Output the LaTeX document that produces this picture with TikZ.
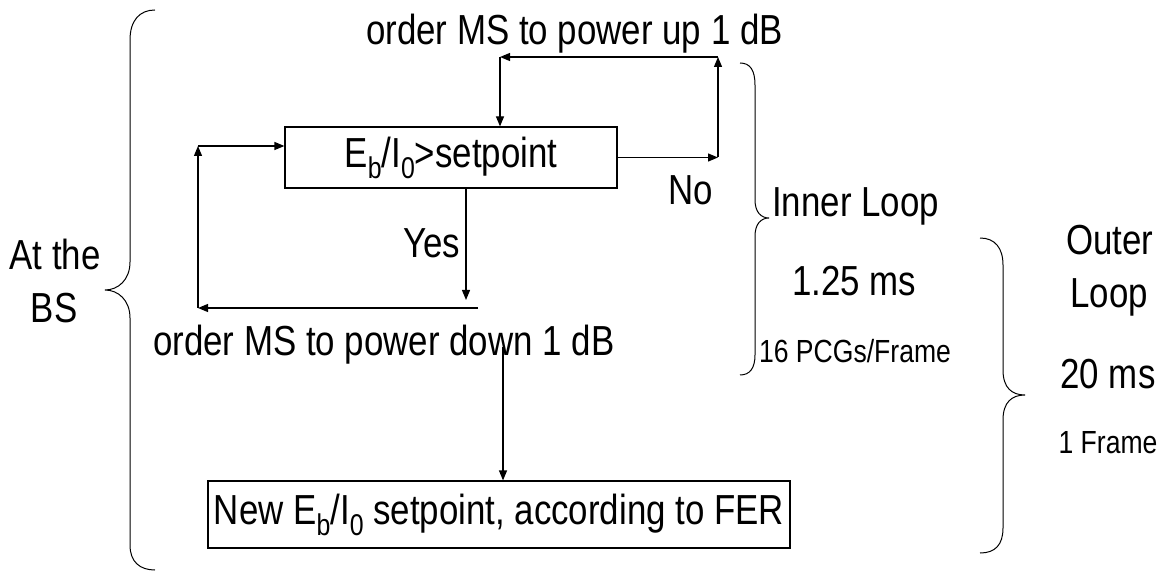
\documentclass[tikz,border=0pt]{standalone}
\usepackage{fontspec}
\setmainfont{Liberation Sans}[FakeStretch=0.83]
\usetikzlibrary{arrows.meta}
\newcommand\bigtxt{\fontsize{42}{46}\selectfont}
\newcommand\smtxt{\fontsize{32}{36}\selectfont}
\newcommand\lowtxt[1]{\raisebox{-11pt}{\fontsize{30}{32}\selectfont #1}}
\tikzset{
  txt/.style={inner sep=0pt, font=\bigtxt},
  smalltxt/.style={inner sep=0pt, font=\smtxt},
  boxnode/.style={draw, line width=1.2pt, inner sep=0pt, font=\bigtxt},
  arr/.style={line width=1.2pt, -{Triangle[length=10pt,width=8pt]}},
  brace/.style={line width=1pt},
}
\begin{document}
\begin{tikzpicture}[x=1pt,y=-1pt]
\useasboundingbox (0,0) rectangle (1167,577);

% texts
\node[txt, anchor=base west] (up) at (366,45) {order MS to power up 1 dB};
\node[boxnode, minimum width=332pt, minimum height=61pt] (box1) at (451,157.5)
  {E\lowtxt{b}/I\lowtxt{0}>setpoint};
\node[txt, anchor=base west] (no) at (668,205) {No};
\node[txt, anchor=base west] (yes) at (403,258) {Yes};
\node[txt, anchor=base west] (down) at (153,355) {order MS to power down 1 dB};
\node[boxnode, minimum width=582pt, minimum height=67pt] (box2) at (499,514.5)
  {New E\lowtxt{b}/I\lowtxt{0} setpoint, according to FER};

\node[txt, anchor=base] (at) at (55,270) {At the};
\node[txt, anchor=base] (bs) at (54,323) {BS};
\node[txt, anchor=base west] (inner) at (772,217) {Inner Loop};
\node[txt, anchor=base] (t125) at (854,295) {1.25 ms};
\node[smalltxt, anchor=base] (pcg) at (855,362) {16 PCGs/Frame};
\node[txt, anchor=base] (outer) at (1110,255) {Outer};
\node[txt, anchor=base] (loop) at (1109,308) {Loop};
\node[txt, anchor=base] (t20) at (1108,388) {20 ms};
\node[smalltxt, anchor=base] (frame) at (1108,453) {1 Frame};

% connector corners
\coordinate (cR) at (718,157.5);
\coordinate (cUR) at (718,57);
\coordinate (cUL) at (500,57);
\coordinate (cYes) at (466,300);
\coordinate (cBR) at (478,308);
\coordinate (cBL) at (198,308);
\coordinate (cTL) at (198,146);
\coordinate (cD) at (503,347);

% inner loop connectors
\draw[arr] (box1.east) -- (cR);
\draw[arr] (cR) -- (cUR);
\draw[arr] (cUR) -- (cUL);
\draw[arr] (cUL) -- (box1.north -| cUL);
\draw[arr] (box1.south -| cYes) -- (cYes);
\draw[arr] (cBR) -- (cBL);
\draw[arr] (cBL) -- (cTL);
\draw[arr] (cTL) -- (box1.west |- cTL);
\draw[arr] (cD) -- (box2.north -| cD);

% braces
\draw[brace] (155,10) .. controls (140,10) and (130,20) .. (130,40) -- (130,262)
  .. controls (130,280) and (118,290) .. (105,290)
  .. controls (118,290) and (130,300) .. (130,318) -- (130,545)
  .. controls (130,562) and (140,570) .. (155,570);
\draw[brace] (740,63) .. controls (750,63) and (755,70) .. (755,85) -- (755,200)
  .. controls (755,212) and (761,218) .. (769,218)
  .. controls (761,218) and (755,224) .. (755,236) -- (755,355)
  .. controls (755,368) and (750,375) .. (740,375);
\draw[brace] (980,238) .. controls (995,238) and (1003,248) .. (1003,265) -- (1003,370)
  .. controls (1003,388) and (1012,395) .. (1025,395)
  .. controls (1012,395) and (1003,402) .. (1003,420) -- (1003,528)
  .. controls (1003,545) and (995,553) .. (980,553);
\end{tikzpicture}
\end{document}
